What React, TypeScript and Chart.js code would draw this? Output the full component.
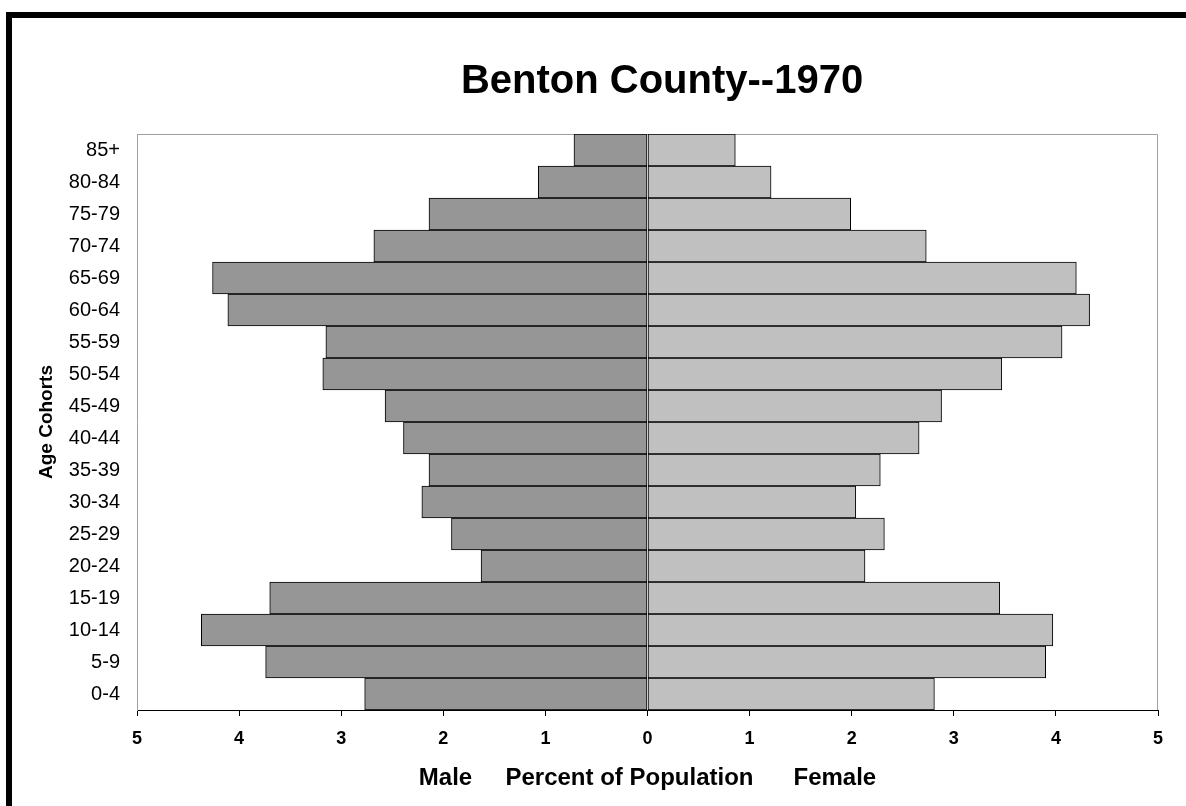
import React, { useEffect, useRef } from 'react';
import { Chart, registerables } from 'chart.js';

Chart.register(...registerables);

// ---- Data ----
const ageCohorts: string[] = [
  '0-4', '5-9', '10-14', '15-19', '20-24', '25-29', '30-34', '35-39', '40-44',
  '45-49', '50-54', '55-59', '60-64', '65-69', '70-74', '75-79', '80-84', '85+',
];
const malePercent: number[] = [
  2.77, 3.74, 4.37, 3.70, 1.63, 1.92, 2.21, 2.14, 2.39,
  2.57, 3.18, 3.15, 4.11, 4.26, 2.68, 2.14, 1.07, 0.72,
];
const femalePercent: number[] = [
  2.81, 3.90, 3.97, 3.45, 2.13, 2.32, 2.04, 2.28, 2.66,
  2.88, 3.47, 4.06, 4.33, 4.20, 2.73, 1.99, 1.21, 0.86,
];
const xAxisMin = -5;
const xAxisMax = 5;
const xAxisStep = 1;

const chartTitle = 'Benton County--1970';
const yAxisTitle = 'Age Cohorts';
const xAxisTitle = 'Male     Percent of Population      Female';

const FONT = "'Liberation Sans', Arial, Helvetica, sans-serif";

const pageDecor = {
  id: 'pageDecor',
  beforeDraw(chart: any) {
    const { ctx, width, height } = chart;
    ctx.save();
    ctx.fillStyle = '#ffffff';
    ctx.fillRect(0, 0, width, height);
    ctx.fillStyle = '#000000';
    ctx.fillRect(6, 12, 6, height - 12);
    ctx.fillRect(6, 12, width - 6, 6);
    ctx.restore();
  },
  beforeDatasetsDraw(chart: any) {
    const { ctx, chartArea } = chart;
    ctx.save();
    ctx.strokeStyle = '#a0a0a0';
    ctx.lineWidth = 1;
    ctx.beginPath();
    ctx.moveTo(Math.round(chartArea.left) + 0.5, Math.round(chartArea.top) + 0.5);
    ctx.lineTo(Math.round(chartArea.right) - 0.5, Math.round(chartArea.top) + 0.5);
    ctx.lineTo(Math.round(chartArea.right) - 0.5, Math.round(chartArea.bottom));
    ctx.stroke();
    ctx.restore();
  },
  afterDraw(chart: any) {
    const { ctx } = chart;
    ctx.save();
    ctx.fillStyle = '#000000';
    ctx.font = `bold 40px ${FONT}`;
    ctx.textAlign = 'center';
    ctx.textBaseline = 'alphabetic';
    ctx.fillText(chartTitle, 662, 93);
    ctx.restore();
  },
};

export default function App() {
  const canvasRef = useRef<HTMLCanvasElement | null>(null);

  useEffect(() => {
    const canvas = canvasRef.current;
    if (!canvas) return;
    const chart = new Chart(canvas, {
      type: 'bar',
      data: {
        labels: ageCohorts,
        datasets: [
          {
            label: 'Male',
            data: malePercent.map((v) => -v),
            backgroundColor: '#969696',
            borderColor: '#000000',
            borderWidth: 1,
            borderSkipped: false,
            barPercentage: 1,
            categoryPercentage: 1,
          },
          {
            label: 'Female',
            data: femalePercent,
            backgroundColor: '#c0c0c0',
            borderColor: '#000000',
            borderWidth: 1,
            borderSkipped: false,
            barPercentage: 1,
            categoryPercentage: 1,
          },
        ],
      },
      options: {
        indexAxis: 'y',
        responsive: false,
        animation: false,
        devicePixelRatio: 1,
        layout: { padding: { top: 134, left: 20, right: 28, bottom: 1 } },
        plugins: {
          legend: { display: false },
          tooltip: { enabled: false },
          title: { display: false },
        },
        scales: {
          x: {
            type: 'linear',
            stacked: true,
            min: xAxisMin,
            max: xAxisMax,
            afterFit: (scale: any) => {
              scale.height = 95;
            },
            ticks: {
              stepSize: xAxisStep,
              padding: 12,
              color: '#000000',
              font: { family: FONT, size: 18, weight: 'bold' },
              callback: (v: any) => String(Math.abs(Number(v))),
            },
            grid: {
              display: true,
              drawOnChartArea: false,
              drawTicks: true,
              tickLength: 6,
              color: '#000000',
            },
            border: { display: true, color: '#000000', width: 1 },
            title: {
              display: true,
              text: xAxisTitle,
              color: '#000000',
              font: { family: FONT, size: 24, weight: 'bold' },
              padding: { top: 12, bottom: 12 },
            },
          },
          y: {
            type: 'category',
            stacked: true,
            reverse: true,
            offset: true,
            afterFit: (scale: any) => {
              scale.width = 117;
            },
            ticks: {
              padding: 17,
              color: '#000000',
              font: { family: FONT, size: 20 },
            },
            grid: { display: false, drawTicks: false },
            border: { display: true, color: '#a0a0a0', width: 1 },
            title: {
              display: true,
              text: yAxisTitle,
              color: '#000000',
              font: { family: FONT, size: 19, weight: 'bold' },
              padding: { top: 15, bottom: 4 },
            },
          },
        },
      },
      plugins: [pageDecor],
    } as any);
    return () => chart.destroy();
  }, []);

  return (
    <div style={{ position: 'absolute', left: 0, top: 0, width: 1186, height: 806 }}>
      <canvas ref={canvasRef} width={1186} height={806} style={{ width: 1186, height: 806, display: 'block' }} />
    </div>
  );
}
